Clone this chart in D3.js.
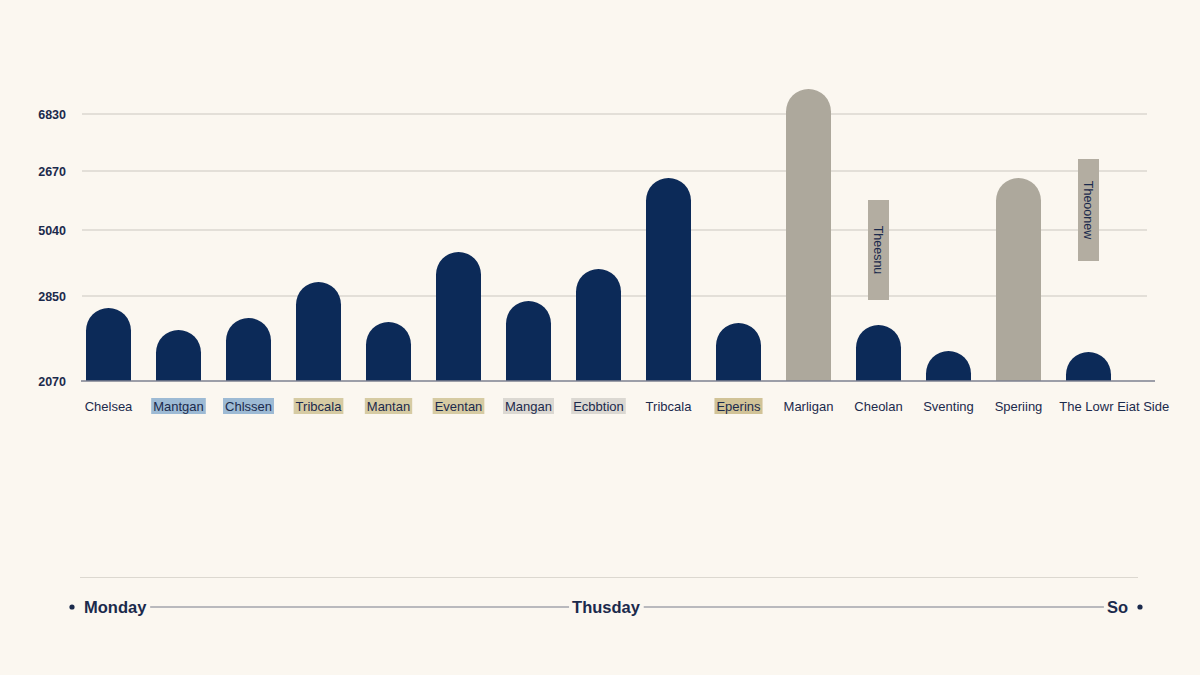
<!DOCTYPE html>
<html>
<head>
<meta charset="utf-8">
<script src="https://cdn.jsdelivr.net/npm/d3@7"></script>
<style>
  html, body { margin: 0; padding: 0; background: #fbf7f0; }
  svg { display: block; font-family: "Liberation Sans", Arial, sans-serif; }
</style>
</head>
<body>
<svg id="chart" width="1200" height="675"></svg>
<script>
// chart data
var categories = ["Chelsea", "Mantgan", "Chlssen", "Tribcala", "Mantan", "Eventan", "Mangan",
  "Ecbbtion", "Tribcala", "Eperins", "Marligan", "Cheolan", "Sventing", "Speriing", "The Lowr Eiat Side"];
var values = [73, 51, 63, 99, 59, 129, 80, 112, 203, 58, 292, 56, 30, 203, 29];
var barGroup = ["main", "main", "main", "main", "main", "main", "main", "main", "main", "main",
  "muted", "main", "main", "muted", "main"];
var labelTone = [null, "blue", "blue", "tan", "tan", "tan", "gray", "gray", null, "sand",
  null, null, null, null, null];

var tickValues = [0, 85, 151, 210, 267];
var tickLabels = ["2070", "2850", "5040", "2670", "6830"];

var noteIndex = [11, 14];
var noteText = ["Theesnu", "Theoonew"];
var noteHigh = [181, 222];
var noteLow = [81, 120];

var days = ["Monday", "Thusday", "So"];

var colorArray = { main: "#0c2a58", muted: "#ada89c" };
var toneColor = { blue: "#9dbad4", tan: "#d6cba3", gray: "#dbd8d2", sand: "#d1c397" };
var ink = "#1b2a4c";

var svg = d3.select("#chart");

var x = d3.scaleBand()
  .domain(d3.range(categories.length))
  .range([73.5, 1123.5])
  .paddingInner(25 / 70)
  .paddingOuter(12.5 / 70);

var y = d3.scaleLinear().domain([0, 300]).range([381, 81]);

// grid lines
svg.append("g")
  .selectAll("line")
  .data(tickValues.slice(1))
  .join("line")
  .attr("x1", 82)
  .attr("x2", 1147)
  .attr("y1", (d) => y(d))
  .attr("y2", (d) => y(d))
  .attr("stroke", "#cbc7bf")
  .attr("stroke-width", 1.2);

// y axis labels
var yAxis = d3.axisLeft(y)
  .tickValues(tickValues)
  .tickSize(0)
  .tickPadding(0)
  .tickFormat((d, i) => tickLabels[i]);

svg.append("g")
  .attr("transform", "translate(66,0)")
  .call(yAxis)
  .call((g) => g.select(".domain").remove())
  .selectAll("text")
  .attr("fill", ink)
  .attr("font-size", 12.5)
  .attr("font-weight", "bold");

// bars with rounded tops
var barPath = function (i) {
  var x0 = x(i);
  var w = x.bandwidth();
  var r = w / 2;
  var top = y(values[i]);
  var base = y(0);
  var p = d3.path();
  p.moveTo(x0, base);
  p.lineTo(x0, top + r);
  p.arc(x0 + r, top + r, r, Math.PI, 0);
  p.lineTo(x0 + w, base);
  p.closePath();
  return p;
};

svg.append("g")
  .selectAll("path")
  .data(d3.range(categories.length))
  .join("path")
  .attr("d", (i) => barPath(i))
  .attr("fill", (i) => colorArray[barGroup[i]]);

// baseline
svg.append("line")
  .attr("x1", 81)
  .attr("x2", 1155)
  .attr("y1", y(0))
  .attr("y2", y(0))
  .attr("stroke", "#7d8190")
  .attr("stroke-width", 1.5);

// annotation boxes
var notes = svg.append("g");
noteIndex.forEach(function (idx, k) {
  var cx = x(idx) + x.bandwidth() / 2;
  var top = y(noteHigh[k]);
  var bottom = y(noteLow[k]);
  notes.append("rect")
    .attr("x", cx - 10.5)
    .attr("y", top)
    .attr("width", 21)
    .attr("height", bottom - top)
    .attr("fill", "#b3ada1");
  notes.append("text")
    .attr("transform", "translate(" + cx + "," + (top + (bottom - top) / 2) + ") rotate(90)")
    .attr("text-anchor", "middle")
    .attr("dy", "0.35em")
    .attr("font-size", 12.5)
    .attr("fill", ink)
    .text(noteText[k]);
});

// category labels, pushed right when they would collide
var labels = svg.append("g");
var prevRight = -Infinity;
categories.forEach(function (name, i) {
  var cx = x(i) + x.bandwidth() / 2;
  var t = labels.append("text")
    .attr("y", 410.5)
    .attr("font-size", 13)
    .attr("fill", ink)
    .text(name);
  var w = t.node().getComputedTextLength();
  var left = Math.max(cx - w / 2, prevRight + 17);
  t.attr("x", left);
  prevRight = left + w;
  if (labelTone[i]) {
    labels.insert("rect", "text")
      .attr("x", left - 2)
      .attr("y", 398)
      .attr("width", w + 4)
      .attr("height", 16)
      .attr("fill", toneColor[labelTone[i]]);
  }
});

// bottom separator
svg.append("line")
  .attr("x1", 80)
  .attr("x2", 1138)
  .attr("y1", 577.5)
  .attr("y2", 577.5)
  .attr("stroke", "#dcd8d0")
  .attr("stroke-width", 1.2);

// timeline
var t = d3.scalePoint().domain(days).range([84, 1128]);
var lineY = 607;
var tl = svg.append("g");
var boxes = [];
days.forEach(function (d, i) {
  var anchor = i === 0 ? "start" : i === days.length - 1 ? "end" : "middle";
  var txt = tl.append("text")
    .attr("x", t(d))
    .attr("y", lineY + 6)
    .attr("text-anchor", anchor)
    .attr("font-size", 16.5)
    .attr("font-weight", "bold")
    .attr("fill", ink)
    .text(d);
  boxes.push(txt.node().getBBox());
});
for (var i = 0; i < boxes.length - 1; i++) {
  tl.append("line")
    .attr("x1", boxes[i].x + boxes[i].width + 3)
    .attr("x2", boxes[i + 1].x - 3)
    .attr("y1", lineY)
    .attr("y2", lineY)
    .attr("stroke", "#a3a5ac")
    .attr("stroke-width", 1.3);
}
tl.append("circle").attr("cx", 72).attr("cy", lineY).attr("r", 2.6).attr("fill", ink);
tl.append("circle").attr("cx", 1140).attr("cy", lineY).attr("r", 2.6).attr("fill", ink);
</script>
</body>
</html>
